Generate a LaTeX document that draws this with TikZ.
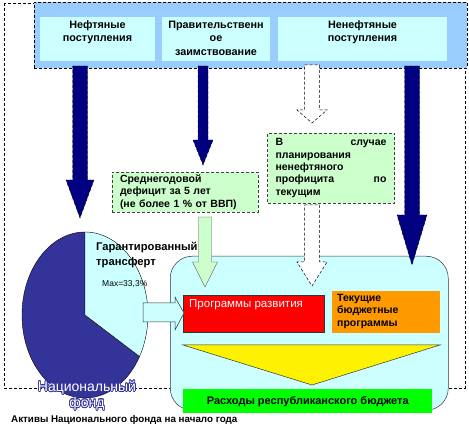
\documentclass[tikz,border=0pt]{standalone}
\usepackage{fontspec}
\setmainfont{Liberation Sans}
\usepackage{xcolor}
\usepackage[copies]{contour}
\usetikzlibrary{shapes,positioning}
\definecolor{navyarr}{HTML}{000080}
\definecolor{fundblue}{HTML}{333399}
\definecolor{paleblue}{HTML}{CCFFFF}
\definecolor{barblue}{HTML}{99CCFF}
\definecolor{palegreen}{HTML}{CCFFCC}
\definecolor{progorange}{HTML}{FF9900}
\definecolor{spendgreen}{HTML}{00FF00}
\newcommand{\downblock}[6]{(#1-#4,#2) -- (#1+#4,#2) -- (#1+#4,#3-#6) -- (#1+#5,#3-#6) -- (#1,#3) -- (#1-#5,#3-#6) -- (#1-#4,#3-#6) -- cycle}
\contourlength{0.7pt}

\begin{document}
\begin{tikzpicture}[x=1pt,y=-1pt]
      \tikzstyle{headbox}=[fill=paleblue,minimum height=44pt,inner sep=0pt]
      \tikzstyle{headtext}=[align=center,inner sep=0pt,font=\bfseries\fontsize{10.8}{13.3}\selectfont]
      \tikzstyle{notebox}=[fill=palegreen,draw=black!75,densely dashed,inner ysep=0pt,inner xsep=8pt,align=left,font=\bfseries\fontsize{10.5}{12.3}\selectfont]
      \tikzstyle{navyarrow}=[fill=navyarr,draw=black,densely dashed,line width=0.4pt]
      \tikzstyle{emptyarrow}=[fill=white,draw=black,densely dashed,line width=0.5pt]
      \tikzstyle{progbox}=[draw=black!80,line width=0.5pt,anchor=north west,inner sep=0pt]
      \useasboundingbox (0,0) rectangle (469,438);
      \draw[densely dashed,line width=0.5pt] (4,3) rectangle (465,388);
      \node (budget) [fill=paleblue,draw=black!80,line width=0.5pt,rounded corners=22pt,minimum width=278pt,minimum height=154pt,anchor=north west] at (170,256) {};
      \node (sources) [fill=barblue,draw=black,densely dashed,line width=0.5pt,minimum width=433pt,minimum height=66pt,anchor=north west] at (34,2) {};
      \node (oil) [headbox,minimum width=115pt] at (97.5,39) {};
      \node (borrow) [headbox,minimum width=108pt] at (216,39) {};
      \node (nonoil) [headbox,minimum width=169pt] at (362.5,39) {};
      \node (oiltext) [headtext,below=3.5pt of oil.north] {Нефтяные\\поступления};
      \node (borrowtext) [headtext,below=4pt of borrow.north] {Правительственн\\ое\\заимствование};
      \node (nonoiltext) [headtext,below=3.5pt of nonoil.north] {Ненефтяные\\поступления};
      \draw[navyarrow] \downblock{80}{66}{218}{7.5}{14}{38};
      \draw[navyarrow] \downblock{203}{66}{165}{5}{10}{25};
      \draw[navyarrow] \downblock{412}{66}{265}{7.5}{15}{50};
      \draw[emptyarrow] \downblock{312}{65}{123}{7.5}{15}{13};
      \draw[emptyarrow] \downblock{312}{205}{286}{7.5}{15}{24};
      \node (deficit) [notebox,minimum width=146pt,minimum height=40pt,text width=130pt] at (185,192) {Среднегодовой\\дефицит за 5 лет\\(не более 1 \% от ВВП)};
      \node (surplus) [notebox,minimum width=127pt,minimum height=70pt,text width=111pt] at (331,168) {В\hfill случае\\планирования\\ненефтяного\\профицита\hfill по\\текущим};
      \draw[fill=palegreen,draw=black!70,line width=0.4pt] \downblock{205}{217}{287}{6.5}{12.5}{25};
      \node (devprog) [progbox,fill=red,minimum width=141pt,minimum height=37pt] at (183,295) {};
      \node (devlabel) [anchor=west,inner sep=0pt,text=white,font=\fontsize{11.5}{13}\selectfont] at (189,305) {Программы развития};
      \node (curprog) [progbox,draw=none,fill=progorange,minimum width=108pt,minimum height=42pt] at (332,291) {};
      \node (curlabel) [anchor=north west,align=left,inner sep=0pt,font=\bfseries\fontsize{10.5}{12.3}\selectfont] at (337,294) {Текущие\\бюджетные\\программы};
      \coordinate (funnel) at (312,385);
      \draw[fill=yellow,draw=black!80,line width=0.5pt] (183,345) -- (440,345) -- (funnel) -- cycle;
      \node (spend) [progbox,draw=none,fill=spendgreen,minimum width=249pt,minimum height=24pt] at (183,389) {};
      \node (spendlabel) [font=\bfseries\fontsize{11}{12}\selectfont] at (spend.center) {Расходы республиканского бюджета};
      \coordinate (fund) at (85,315);
      \draw[fill=fundblue,line width=0.4pt] (fund) -- ++(270:63 and 83) arc[start angle=270,end angle=30,x radius=63,y radius=83] -- cycle;
      \draw[fill=paleblue,line width=0.4pt,shift={(4,-7)}] (fund) -- ++(270:63 and 83) arc[start angle=270,end angle=390,x radius=63,y radius=83] -- cycle;
      \node (transfer) [anchor=north west,align=left,inner sep=0pt,font=\bfseries\fontsize{11.2}{15}\selectfont] at (96,242) {Гарантированный\\трансферт};
      \node (share) [anchor=west,inner sep=0pt,font=\fontsize{8.5}{10}\selectfont] at (102,284) {Max=33,3\%};
      \draw[fill=paleblue,draw=black!80,line width=0.5pt] (143,303) -- (175,303) -- (175,297) -- (184,313) -- (175,330) -- (175,322) -- (143,322) -- cycle;
      \node (fundname) [text=white,font=\fontsize{14}{16}\selectfont,align=center,inner sep=0pt] at (87,396) {\contour{fundblue}{Национальный}\\\contour{fundblue}{фонд}};
      \node (assets) [anchor=west,inner sep=0pt,font=\bfseries\fontsize{9.8}{10}\selectfont] at (11,420) {Активы Национального фонда на начало года};
\end{tikzpicture}
\end{document}
